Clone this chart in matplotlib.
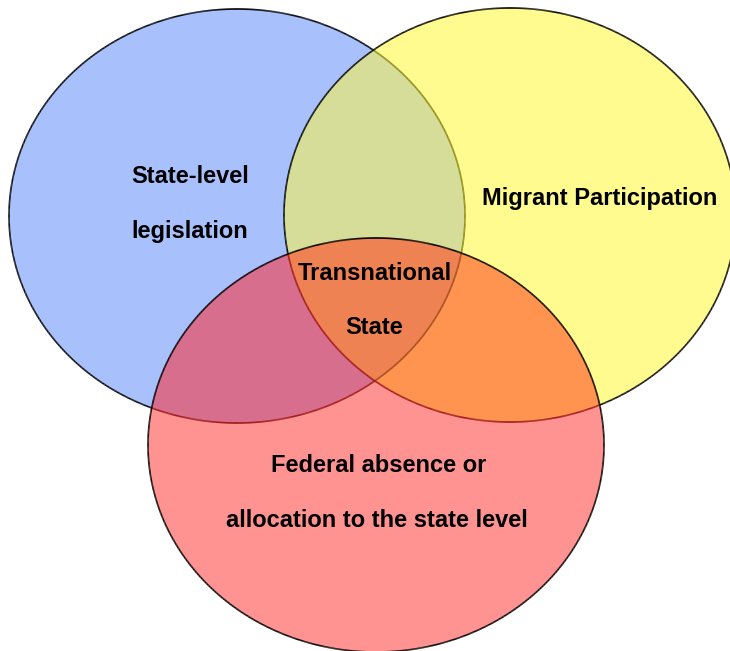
import numpy as np
import matplotlib
matplotlib.use("Agg")
from matplotlib import pyplot as plt
from matplotlib.patches import Ellipse, Polygon
from matplotlib.collections import LineCollection

# the three sets
centers = [(237, 216), (510, 215), (376, 445)]
widths = [456, 452, 456]
heights = [414, 414, 414]
fills = ['#a8c1fc', '#fffb8f', '#ff9391']

# overlap colours
pair_fills = {(0, 1): '#d5dd98', (0, 2): '#d86e8e', (1, 2): '#ff9450'}
triple_fill = '#ee8253'

# label lines and their baselines
label_lines = ['State-level', 'legislation', 'Migrant Participation',
               'Transnational', 'State', 'Federal absence or',
               'allocation to the state level']
label_pos = [(190, 183), (190, 238), (600, 205), (375, 280), (374, 334),
             (379, 472), (377, 527)]


def boundary(i, n=1440):
    t = np.linspace(0, 2 * np.pi, n, endpoint=False)
    cx, cy = centers[i]
    return np.column_stack([cx + widths[i] / 2 * np.cos(t),
                            cy + heights[i] / 2 * np.sin(t)])


def inside(i, pts):
    cx, cy = centers[i]
    dx = (pts[:, 0] - cx) / (widths[i] / 2)
    dy = (pts[:, 1] - cy) / (heights[i] / 2)
    return dx ** 2 + dy ** 2 <= 1.0


def intersection(ids):
    pts = []
    for i in ids:
        b = boundary(i)
        keep = np.ones(len(b), dtype=bool)
        for j in ids:
            if j != i:
                keep &= inside(j, b)
        pts.append(b[keep])
    pts = np.vstack(pts)
    c = pts.mean(axis=0)
    ang = np.arctan2(pts[:, 1] - c[1], pts[:, 0] - c[0])
    return pts[np.argsort(ang)]


def main():
    fig = plt.figure(figsize=(7.30, 6.51), dpi=100)
    ax = fig.add_axes([0, 0, 1, 1])
    ax.set_xlim(0, 730)
    ax.set_ylim(651, 0)
    ax.axis('off')

    for i in range(3):
        ax.add_patch(Ellipse(centers[i], widths[i], heights[i],
                             facecolor=fills[i], edgecolor='none'))
    for ids, col in pair_fills.items():
        ax.add_patch(Polygon(intersection(ids), closed=True,
                             facecolor=col, edgecolor='none'))
    ax.add_patch(Polygon(intersection((0, 1, 2)), closed=True,
                         facecolor=triple_fill, edgecolor='none'))

    # outlines, tinted where a later set lies on top
    tint = {(): 'black', (1,): '#8a8814', (2,): '#a01818', (1, 2): '#a04c1c'}
    for i in range(3):
        b = boundary(i)
        b = np.vstack([b, b[:1]])
        segs = np.stack([b[:-1], b[1:]], axis=1)
        mids = (b[:-1] + b[1:]) / 2
        over = [inside(j, mids) for j in range(3)]
        cols = []
        for k in range(len(mids)):
            key = tuple(j for j in range(i + 1, 3) if over[j][k])
            cols.append(tint[key])
        ax.add_collection(LineCollection(segs, colors=cols, linewidths=1.2))

    for s, (x, y) in zip(label_lines, label_pos):
        ax.text(x, y, s, ha='center', va='baseline', fontsize=17,
                fontweight='bold', family='Liberation Sans')

    fig.savefig('out.png', dpi=100)


if __name__ == "__main__":
    main()
